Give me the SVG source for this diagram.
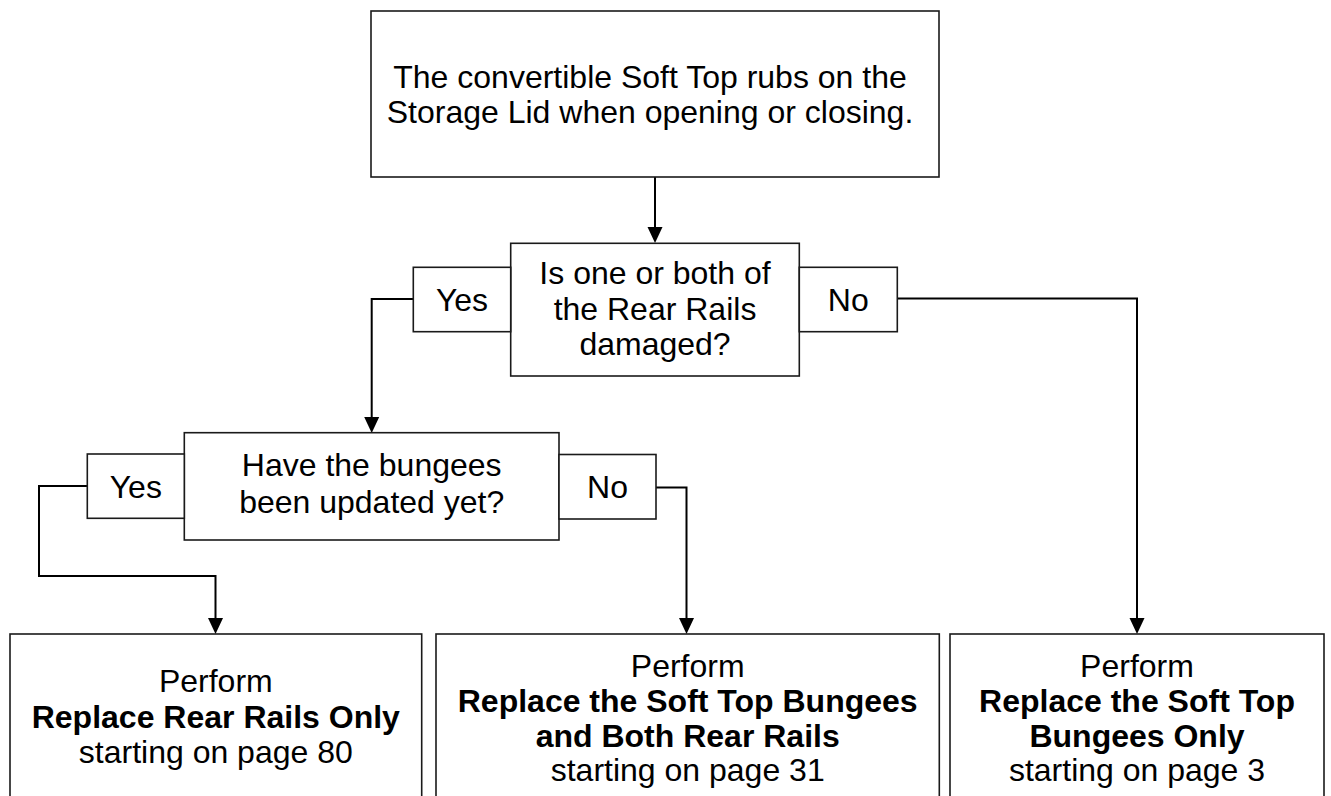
<svg xmlns="http://www.w3.org/2000/svg" width="1331" height="796" viewBox="0 0 1331 796">
<defs>
<style>
.box{fill:#fff;stroke:#1a1a1a;stroke-width:1.6}
.t{font-family:"Liberation Sans",Arial,sans-serif;font-size:32px;fill:#000;text-anchor:middle}
.b{font-weight:bold}
.c{fill:none;stroke:#000;stroke-width:2}
.ah{fill:#000}
</style>
</defs>
<rect width="1331" height="796" fill="#fff"/>
<g id="connectors">
<path class="c" d="M655,177 V235"/>
<path class="ah" d="M647.5,227 L662.5,227 L655,243 Z"/>
<path class="c" d="M413,299 H371.7 V425"/>
<path class="ah" d="M364.2,417 L379.2,417 L371.7,433 Z"/>
<path class="c" d="M897,298.5 H1137 V626"/>
<path class="ah" d="M1129.5,618 L1144.5,618 L1137,634 Z"/>
<path class="c" d="M87,486 H39 V576 H215.5 V626"/>
<path class="ah" d="M208,618 L223,618 L215.5,634 Z"/>
<path class="c" d="M656,487.5 H686.5 V626"/>
<path class="ah" d="M679,618 L694,618 L686.5,634 Z"/>
</g>
<g id="start">
<rect class="box" x="371" y="11" width="568" height="166"/>
<text class="t" x="650" y="88">The convertible Soft Top rubs on the</text>
<text class="t" x="650" y="123">Storage Lid when opening or closing.</text>
</g>
<g id="decision1">
<rect class="box" x="510.7" y="243.3" width="288.6" height="132.7"/>
<text class="t" x="655" y="284">Is one or both of</text>
<text class="t" x="655" y="320">the Rear Rails</text>
<text class="t" x="655" y="355">damaged?</text>
</g>
<g id="yes1">
<rect class="box" x="413.3" y="267.3" width="97.4" height="64.4"/>
<text class="t" x="462" y="311">Yes</text>
</g>
<g id="no1">
<rect class="box" x="799.3" y="267.3" width="98" height="64.4"/>
<text class="t" x="848.3" y="311">No</text>
</g>
<g id="decision2">
<rect class="box" x="184.3" y="432.7" width="374.7" height="107.3"/>
<text class="t" x="371.7" y="476">Have the bungees</text>
<text class="t" x="371.7" y="513">been updated yet?</text>
</g>
<g id="yes2">
<rect class="box" x="87.3" y="454" width="97" height="64.3"/>
<text class="t" x="135.8" y="497.5">Yes</text>
</g>
<g id="no2">
<rect class="box" x="559" y="454.5" width="97" height="64.5"/>
<text class="t" x="607.5" y="498">No</text>
</g>
<g id="result1">
<rect class="box" x="10" y="634" width="411.7" height="180"/>
<text class="t" x="215.8" y="691.7">Perform</text>
<text class="t b" x="215.8" y="728">Replace Rear Rails Only</text>
<text class="t" x="215.8" y="763.3">starting on page 80</text>
</g>
<g id="result2">
<rect class="box" x="436" y="634" width="503.3" height="180"/>
<text class="t" x="687.7" y="676.7">Perform</text>
<text class="t b" x="687.7" y="711.7">Replace the Soft Top Bungees</text>
<text class="t b" x="687.7" y="746.7">and Both Rear Rails</text>
<text class="t" x="687.7" y="781">starting on page 31</text>
</g>
<g id="result3">
<rect class="box" x="950" y="634" width="374" height="180"/>
<text class="t" x="1137" y="676.7">Perform</text>
<text class="t b" x="1137" y="711.7">Replace the Soft Top</text>
<text class="t b" x="1137" y="746.7">Bungees Only</text>
<text class="t" x="1137" y="781">starting on page 3</text>
</g>
</svg>
